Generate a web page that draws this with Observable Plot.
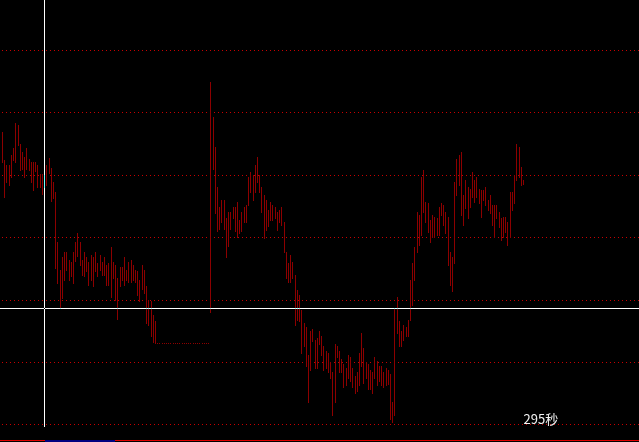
<!DOCTYPE html>
<html><head><meta charset="utf-8">
<script src="https://cdn.jsdelivr.net/npm/d3@7"></script>
<script src="https://cdn.jsdelivr.net/npm/@observablehq/plot@0.6"></script>
<style>
html,body{margin:0;padding:0;background:#000;overflow:hidden;}
#wrap{width:639px;height:442px;background:#000;}
#chart svg{display:block;}
#strip{position:relative;width:639px;height:15px;background:#000;}
#strip .line{position:absolute;left:0;top:13px;width:639px;height:1px;background:#e00000;}
#strip .thumb{position:absolute;left:45px;top:13px;width:70px;height:2px;background:#000080;}
</style></head><body>
<div id="wrap"><div id="chart"></div><div id="strip"><div class="line"></div><div class="thumb"></div></div></div>
<script>
// High of each one-minute bar (price units, grid step = 10)
const hi = [
46.8, 42.3, 41.6, 41.6, 43.2, 44.3, 48.3, 48.0, 45.0, 43.6,
42.9, 44.3, 42.6, 42.0, 42.0, 42.0, 41.6, 40.2, 40.2, 39.9,
41.6, 42.7, 41.1, 38.8, 37.2, 29.3, 24.8, 26.9, 27.6, 27.6,
26.4, 26.1, 27.6, 29.3, 30.6, 29.3, 26.4, 27.6, 26.9, 26.1,
27.2, 26.9, 27.6, 25.8, 27.2, 26.1, 26.9, 25.5, 25.8, 28.5,
26.1, 25.5, 23.4, 25.2, 25.2, 26.9, 24.8, 26.1, 26.4, 25.5,
24.8, 24.5, 23.1, 25.5, 24.8, 22.1, 20.0, 19.8, 17.6, 16.6,
13.1, 13.1, 13.1, 13.1, 13.1, 13.1, 13.1, 13.1, 13.1, 13.1,
13.1, 13.1, 13.1, 13.1, 13.1, 13.1, 13.1, 13.1, 13.1, 13.1,
13.1, 13.1, 13.1, 13.1,
54.9, 49.2, 44.4, 38.1, 34.8, 36.0, 36.0, 33.0, 34.0, 34.0,
34.8, 34.8, 35.7, 32.7, 34.0, 34.8, 35.1, 39.6, 40.5, 39.9,
41.6, 42.9, 39.9, 38.1, 36.8, 36.0, 34.4, 35.7, 35.1, 34.8,
34.0, 34.4, 34.8, 32.4, 27.6, 25.8, 27.2, 26.1, 24.0, 21.6,
20.7, 18.3, 16.2, 15.6, 11.1, 14.9, 15.2, 13.5, 13.8, 14.9,
14.1, 12.5, 11.7, 11.4, 10.0, 8.4, 12.8, 12.5, 11.7, 10.4,
9.6, 9.0, 11.1, 10.8, 9.0, 7.7, 8.4, 11.4, 14.6, 12.2,
10.0, 9.6, 8.7, 8.4, 10.8, 10.1, 9.3, 9.3, 8.4, 9.0,
8.7, 8.0, 3.6, 18.6, 20.4, 16.5, 14.9, 15.9, 15.6, 16.8,
23.1, 25.8, 28.5, 34.0, 33.6, 39.6, 40.8, 35.7, 35.4, 32.7,
33.6, 33.3, 33.0, 34.8, 35.4, 35.1, 34.0, 33.3, 27.6, 26.9,
38.8, 42.6, 43.2, 43.6, 36.8, 39.2, 38.0, 37.8, 40.5, 39.2,
39.6, 37.8, 37.5, 37.5, 38.1, 36.0, 36.8, 35.1, 35.1, 35.1,
34.0, 33.0, 33.3, 33.3, 32.4, 37.2, 37.2, 39.9, 45.0, 44.4,
41.2, 39.2
];
// Low of each bar
const lo = [
42.0, 36.4, 38.8, 38.4, 39.6, 42.3, 42.0, 44.7, 40.8, 41.0,
39.7, 41.0, 40.8, 38.8, 37.5, 40.6, 38.0, 38.0, 36.9, 38.0,
38.4, 40.3, 35.8, 36.2, 25.0, 22.6, 18.7, 20.2, 23.1, 24.7,
23.1, 23.7, 22.6, 26.2, 27.0, 25.5, 24.0, 23.7, 24.6, 22.4,
23.1, 22.2, 24.6, 23.7, 24.8, 24.0, 24.0, 22.4, 22.4, 20.4,
23.5, 20.0, 16.9, 22.2, 23.1, 22.4, 23.1, 22.8, 22.8, 23.1,
22.8, 20.7, 19.8, 21.7, 21.1, 16.2, 15.9, 14.1, 13.2, 13.0,
13.1, 13.1, 13.1, 13.1, 13.1, 13.1, 13.1, 13.1, 13.1, 13.1,
13.1, 13.1, 13.1, 13.1, 13.1, 13.1, 13.1, 13.1, 13.1, 13.1,
13.1, 13.1, 13.1, 13.1,
18.0, 41.0, 33.8, 31.0, 31.3, 32.4, 31.3, 26.9, 28.6, 31.3,
33.1, 31.0, 30.0, 30.7, 31.0, 32.4, 32.4, 35.1, 37.2, 36.0,
37.2, 38.8, 37.2, 34.0, 29.9, 31.2, 31.8, 32.7, 32.7, 33.0,
31.2, 32.4, 32.0, 27.6, 23.4, 22.8, 22.8, 23.4, 15.9, 16.8,
16.5, 11.4, 12.5, 9.3, 3.6, 8.7, 13.3, 9.0, 9.0, 12.8,
11.1, 8.7, 9.0, 8.4, 7.4, 1.5, 3.6, 10.8, 8.4, 8.4,
6.0, 6.3, 7.4, 6.9, 6.0, 5.0, 5.3, 6.3, 9.3, 6.6,
7.4, 5.6, 5.6, 5.0, 7.4, 6.3, 6.9, 6.3, 6.0, 6.3,
6.4, 0.8, 0.4, 1.5, 14.6, 12.5, 12.5, 13.5, 14.1, 14.1,
16.8, 19.2, 23.1, 27.7, 28.8, 30.3, 34.0, 32.4, 30.9, 29.3,
30.0, 30.0, 30.3, 30.3, 33.6, 32.0, 30.6, 25.5, 22.4, 21.3,
25.8, 36.8, 38.4, 33.6, 32.0, 34.6, 33.0, 34.9, 36.4, 35.7,
36.4, 35.4, 33.3, 35.9, 35.1, 34.4, 33.8, 32.0, 30.0, 33.0,
31.6, 29.5, 30.0, 30.9, 28.8, 30.0, 34.4, 35.4, 39.2, 39.6,
38.3, 38.6
];
// Horizontal grid levels
const gridLevels = [0, 10, 20, 30, 40, 50, 60];
// Crosshair (cursor) position: bar number and price
const cursorBar = [20];
const cursorPrice = [18.66];
// Countdown label
const countdown = ["295秒"];

const bars = hi.map((h, k) => ({i: k + 1, hi: h, lo: lo[k]}));
const lastBar = bars.length;

const chart = Plot.plot({
  width: 639,
  height: 427,
  margin: 0,
  style: {background: "#000", overflow: "visible"},
  x: {domain: [0.0979, 288.32], round: true, axis: null},
  y: {domain: [-0.43, 68.02], round: true, axis: null},
  marks: [
    Plot.ruleY(gridLevels, {stroke: "#c80000", strokeWidth: 1, strokeDasharray: "1 3", strokeDashoffset: 2, shapeRendering: "crispEdges"}),
    Plot.ruleX(bars, {x: "i", y1: "lo", y2: "hi", stroke: "#8c0000", strokeWidth: 1, strokeLinecap: "square", shapeRendering: "crispEdges"}),
    Plot.ruleX(cursorBar, {x: d => d, stroke: "#fff", strokeWidth: 1, mixBlendMode: "difference", shapeRendering: "crispEdges"}),
    Plot.ruleY(cursorPrice, {y: d => d, stroke: "#fff", strokeWidth: 1, mixBlendMode: "difference", shapeRendering: "crispEdges"}),
    Plot.text(countdown, {x: () => lastBar, y: () => 0, text: d => d, textAnchor: "start", lineAnchor: "bottom", dy: -1, fill: "#f2f2f2", fontSize: 13, fontFamily: "'Noto Sans CJK SC', 'Noto Sans', sans-serif"})
  ]
});
document.getElementById("chart").append(chart);
</script>
</body></html>
